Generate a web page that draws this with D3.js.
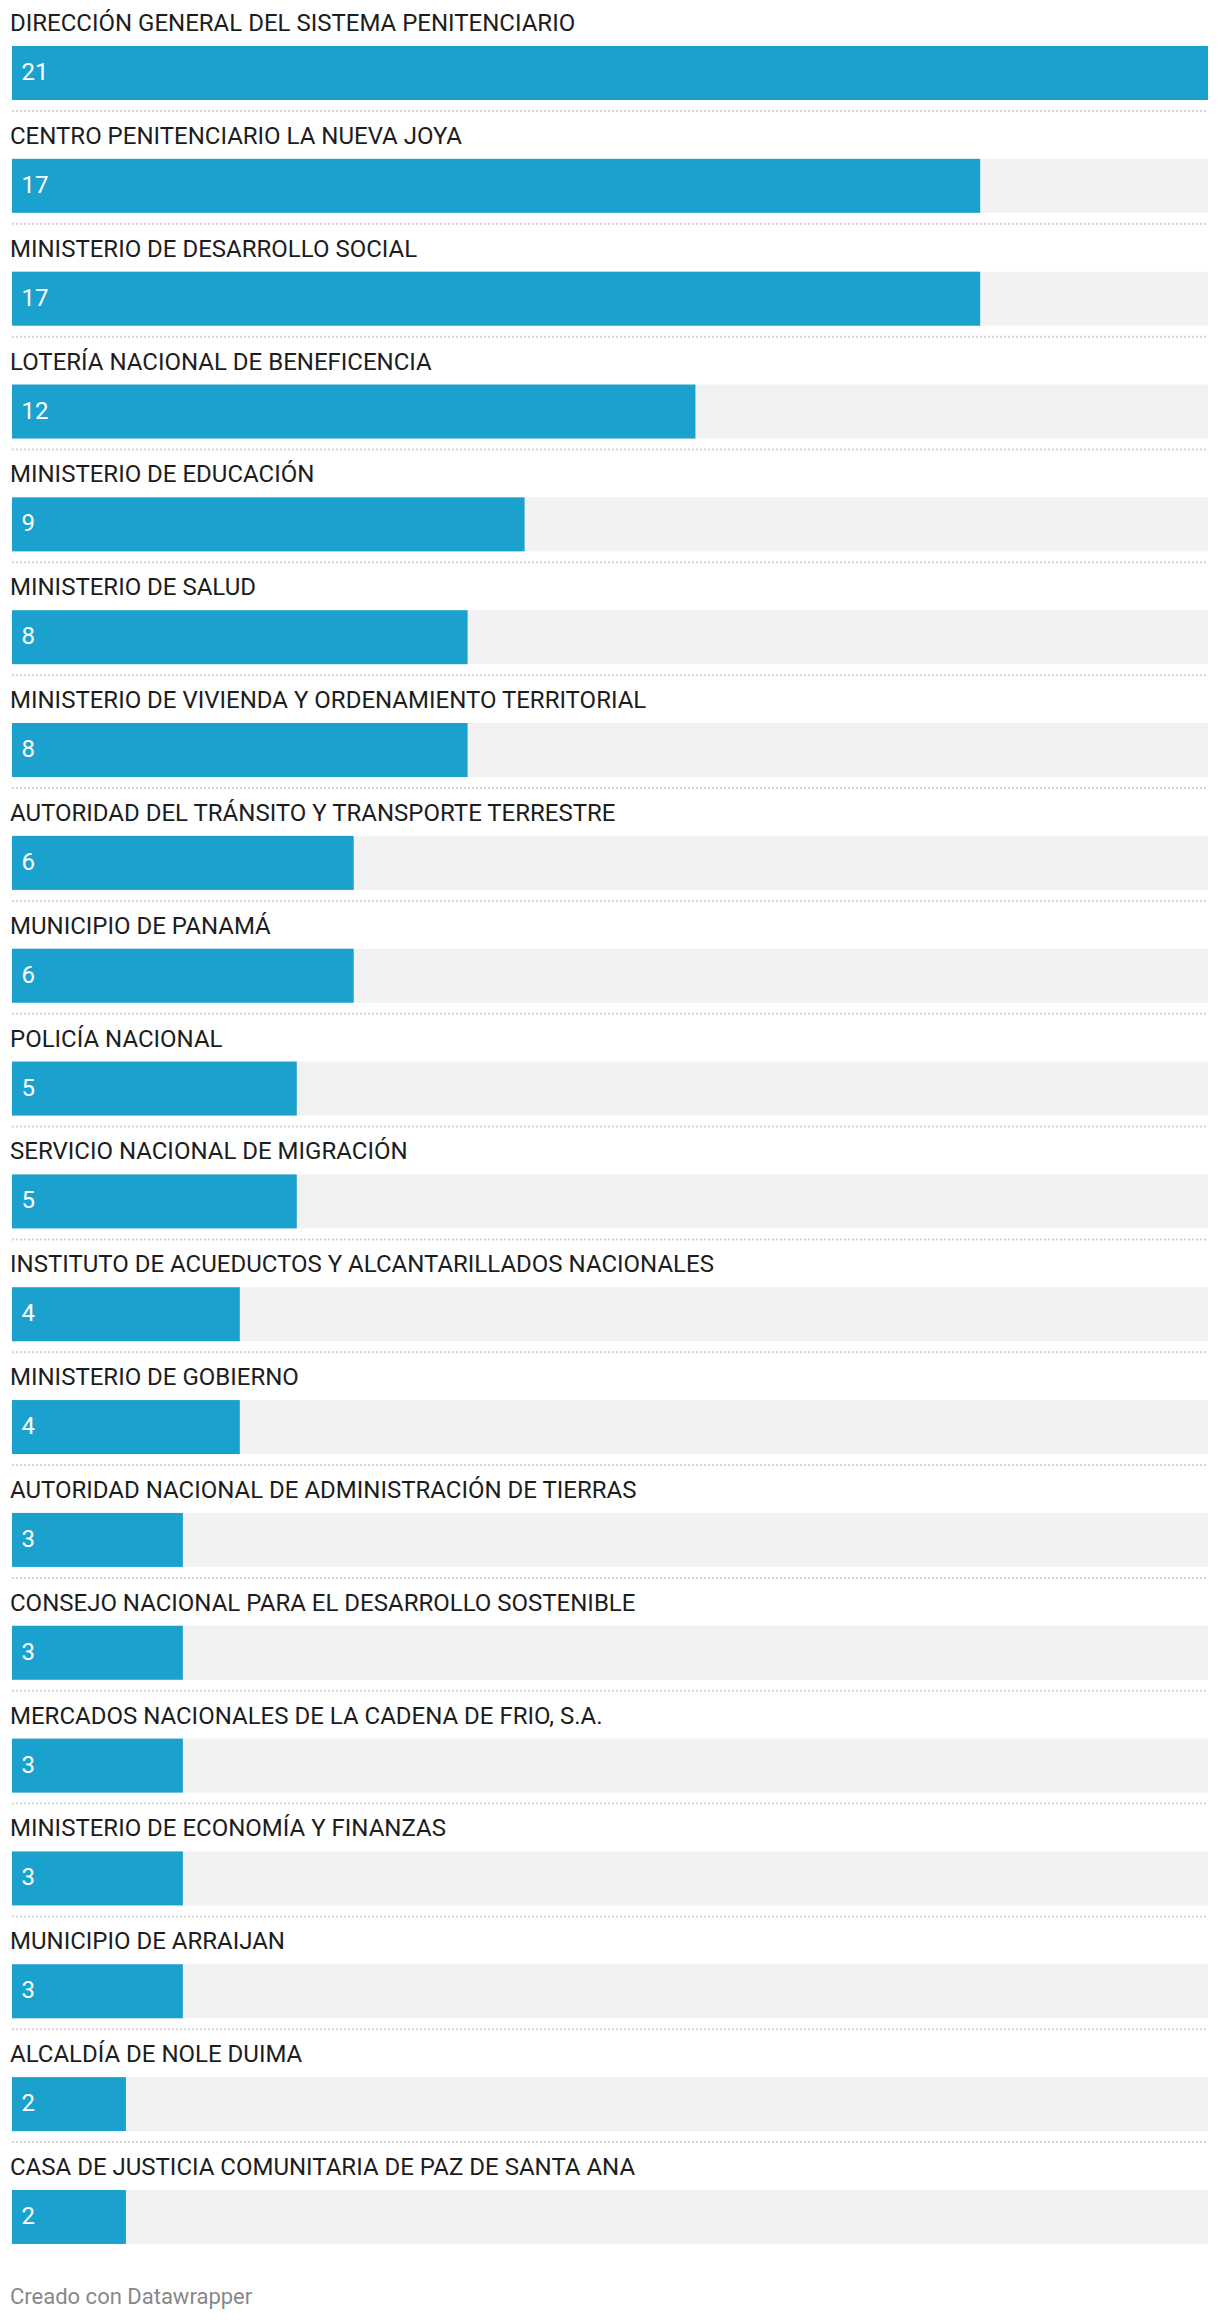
<!DOCTYPE html>
<html>
<head>
<meta charset="utf-8">
<script src="https://cdn.jsdelivr.net/npm/d3@7"></script>
<style>
  html, body { margin: 0; padding: 0; background: #fff; }
  svg { display: block; font-family: Roboto, "Noto Sans", sans-serif; }
</style>
</head>
<body>
<svg id="chart" width="1220" height="2320"></svg>
<script>
const categories = [
  "DIRECCIÓN GENERAL DEL SISTEMA PENITENCIARIO",
  "CENTRO PENITENCIARIO LA NUEVA JOYA",
  "MINISTERIO DE DESARROLLO SOCIAL",
  "LOTERÍA NACIONAL DE BENEFICENCIA",
  "MINISTERIO DE EDUCACIÓN",
  "MINISTERIO DE SALUD",
  "MINISTERIO DE VIVIENDA Y ORDENAMIENTO TERRITORIAL",
  "AUTORIDAD DEL TRÁNSITO Y TRANSPORTE TERRESTRE",
  "MUNICIPIO DE PANAMÁ",
  "POLICÍA NACIONAL",
  "SERVICIO NACIONAL DE MIGRACIÓN",
  "INSTITUTO DE ACUEDUCTOS Y ALCANTARILLADOS NACIONALES",
  "MINISTERIO DE GOBIERNO",
  "AUTORIDAD NACIONAL DE ADMINISTRACIÓN DE TIERRAS",
  "CONSEJO NACIONAL PARA EL DESARROLLO SOSTENIBLE",
  "MERCADOS NACIONALES DE LA CADENA DE FRIO, S.A.",
  "MINISTERIO DE ECONOMÍA Y FINANZAS",
  "MUNICIPIO DE ARRAIJAN",
  "ALCALDÍA DE NOLE DUIMA",
  "CASA DE JUSTICIA COMUNITARIA DE PAZ DE SANTA ANA"
];
const values = [21, 17, 17, 12, 9, 8, 8, 6, 6, 5, 5, 4, 4, 3, 3, 3, 3, 3, 2, 2];
const footerText = "Creado con Datawrapper";

const data = categories.map((c, i) => ({ name: c, value: values[i] }));

const svg = d3.select("#chart");
const left = 12, right = 1208;
const top0 = 46, rowStep = 112.84, barH = 54;

const x = d3.scaleLinear().domain([0, d3.max(values)]).range([left, right]);
const y = d3.scaleBand()
  .domain(categories)
  .range([top0, top0 + rowStep * categories.length])
  .paddingInner(0).paddingOuter(0);

const rows = svg.selectAll("g.row").data(data).enter().append("g").attr("class", "row");

// background track
rows.append("rect")
  .attr("x", x(0))
  .attr("y", d => y(d.name))
  .attr("width", x(d3.max(values)) - x(0))
  .attr("height", barH)
  .attr("fill", "#f2f2f2");

// bars
rows.append("rect")
  .attr("x", x(0))
  .attr("y", d => y(d.name))
  .attr("width", d => x(d.value) - x(0))
  .attr("height", barH)
  .attr("fill", "#1aa1ce");

// category labels
rows.append("text")
  .attr("x", 10)
  .attr("y", d => y(d.name) - 15)
  .attr("font-size", 24)
  .attr("fill", "#1d1d1d")
  .text(d => d.name);

// value labels
rows.append("text")
  .attr("x", x(0) + 9.5)
  .attr("y", d => y(d.name) + 34)
  .attr("font-size", 24)
  .attr("fill", "#ffffff")
  .text(d => d.value);

// dotted separators between rows
rows.filter((d, i) => i < data.length - 1)
  .append("line")
  .attr("x1", left)
  .attr("x2", right)
  .attr("y1", d => y(d.name) + 65)
  .attr("y2", d => y(d.name) + 65)
  .attr("stroke", "#d4d4d4")
  .attr("stroke-width", 2)
  .attr("stroke-dasharray", "2,2");

// footer
svg.append("text")
  .attr("x", 10)
  .attr("y", 2304)
  .attr("font-size", 22)
  .attr("fill", "#888888")
  .text(footerText);
</script>
</body>
</html>
